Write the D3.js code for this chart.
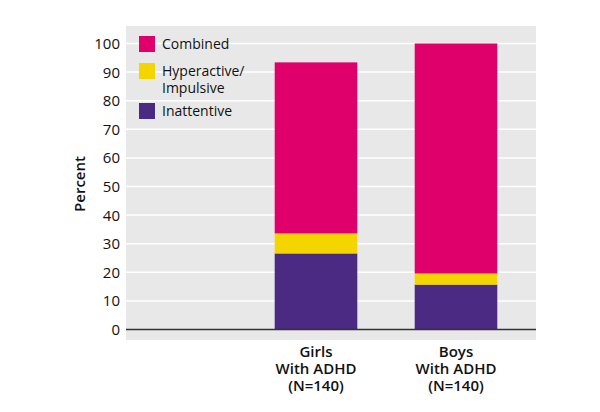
<!DOCTYPE html>
<html>
<head>
<meta charset="utf-8">
<script src="https://cdn.jsdelivr.net/npm/d3@7"></script>
<style>
  body { margin: 0; background: #fff; }
  text { font-family: "Open Sans", "Lato", sans-serif; fill: #111; }
</style>
</head>
<body>
<div id="chart"></div>
<script>
// data
var groups = ["Girls", "Boys"];
var groupLabels = [["Girls", "With ADHD", "(N=140)"], ["Boys", "With ADHD", "(N=140)"]];
var subtypes = ["Inattentive", "Hyperactive/Impulsive", "Combined"];
var inattentive = [26.6, 15.7];
var hyperactive = [7.0, 3.9];
var combined = [59.8, 80.4];
var yTicks = [0, 10, 20, 30, 40, 50, 60, 70, 80, 90, 100];
var legendItems = [["Combined"], ["Hyperactive/", "Impulsive"], ["Inattentive"]];
var colors = {"Inattentive": "#4a2a82", "Hyperactive/Impulsive": "#f5d500", "Combined": "#e0006c"};

var width = 600, height = 412;

var svg = d3.select('#chart')
    .append('svg')
    .attr('width', width)
    .attr('height', height);

// gray panel
svg.append('rect')
    .attr('x', 126)
    .attr('y', 26)
    .attr('width', 410)
    .attr('height', 314)
    .style('fill', '#e8e8e8');

var y = d3.scaleLinear().domain([0, 100]).range([329.5, 43.5]);
var x = d3.scaleBand().domain(groups).range([246, 526]).paddingInner(0.41).paddingOuter(0.205);

// gridlines
svg.selectAll('.grid')
    .data(yTicks.filter(function(d){ return d > 0; }))
    .enter()
    .append('line')
    .attr('x1', 126)
    .attr('x2', 536)
    .attr('y1', function(d){ return y(d); })
    .attr('y2', function(d){ return y(d); })
    .style('stroke', '#fff')
    .style('stroke-width', '1.5px');

// tick labels
svg.selectAll('.ytick')
    .data(yTicks)
    .enter()
    .append('text')
    .attr('x', 120)
    .attr('y', function(d){ return y(d); })
    .attr('dy', '0.36em')
    .attr('text-anchor', 'end')
    .style('font-size', '15px')
    .text(function(d){ return d; });

// stacked bars
var table = groups.map(function(g, i){
    return {group: g, "Inattentive": inattentive[i], "Hyperactive/Impulsive": hyperactive[i], "Combined": combined[i]};
});
var stacked = d3.stack().keys(subtypes)(table);

svg.selectAll('.layer')
    .data(stacked)
    .enter()
    .append('g')
    .style('fill', function(d){ return colors[d.key]; })
    .selectAll('rect')
    .data(function(d){ return d; })
    .enter()
    .append('rect')
    .attr('x', function(d){ return x(d.data.group); })
    .attr('width', x.bandwidth())
    .attr('y', function(d){ return y(d[1]); })
    .attr('height', function(d){ return y(d[0]) - y(d[1]); });

// axis line at zero
svg.append('line')
    .attr('x1', 126)
    .attr('x2', 536)
    .attr('y1', y(0))
    .attr('y2', y(0))
    .style('stroke', '#333')
    .style('stroke-width', '1.5px');

// x labels
groups.forEach(function(g, i){
    var t = svg.append('text')
        .attr('x', x(g) + x.bandwidth() / 2)
        .attr('y', 357)
        .attr('text-anchor', 'middle')
        .style('font-size', '15px')
        .style('font-weight', '600');
    groupLabels[i].forEach(function(line, j){
        t.append('tspan')
            .attr('x', x(g) + x.bandwidth() / 2)
            .attr('dy', j === 0 ? 0 : 17)
            .text(line);
    });
});

// y axis title
svg.append('text')
    .attr('transform', 'translate(85,184) rotate(-90)')
    .attr('text-anchor', 'middle')
    .style('font-size', '15px')
    .style('font-weight', '600')
    .text('Percent');

// legend
var legendKeys = ["Combined", "Hyperactive/Impulsive", "Inattentive"];
var legendY = [36, 63, 103];
legendKeys.forEach(function(k, i){
    svg.append('rect')
        .attr('x', 139)
        .attr('y', legendY[i])
        .attr('width', 16)
        .attr('height', 16)
        .style('fill', colors[k]);
    var t = svg.append('text')
        .attr('x', 162)
        .attr('y', legendY[i] + 13)
        .style('font-size', '14px');
    legendItems[i].forEach(function(line, j){
        t.append('tspan')
            .attr('x', 162)
            .attr('dy', j === 0 ? 0 : 17)
            .text(line);
    });
});
</script>
</body>
</html>
